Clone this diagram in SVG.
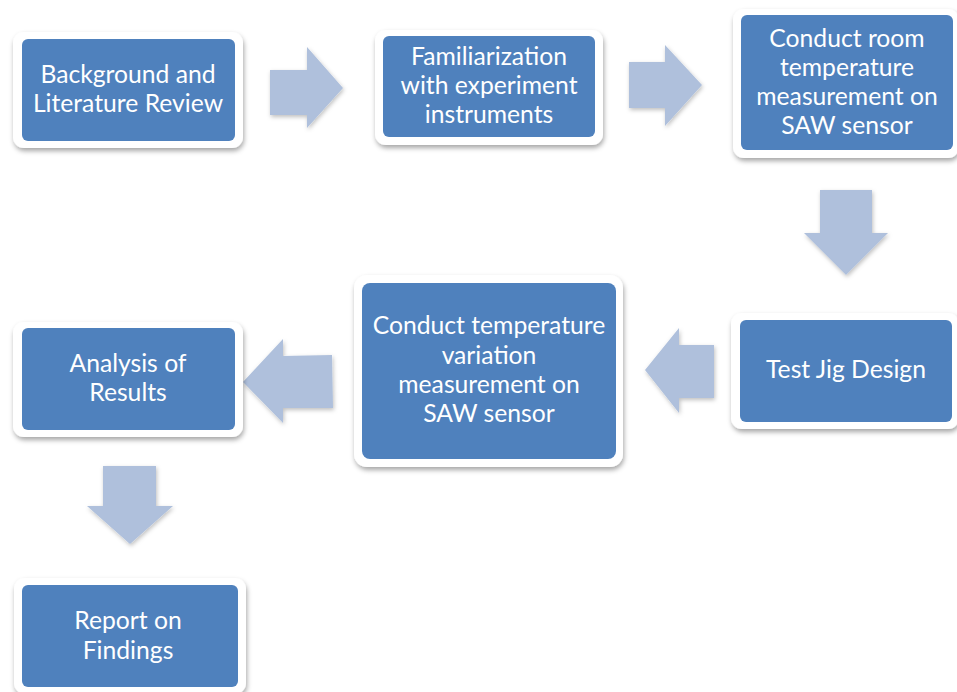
<svg xmlns="http://www.w3.org/2000/svg" width="957" height="692" viewBox="0 0 957 692">
<defs>
<filter id="sh" x="-10%" y="-10%" width="125%" height="130%">
<feDropShadow dx="1" dy="3" stdDeviation="2.5" flood-color="#000" flood-opacity="0.35"/>
</filter>
<filter id="ash" x="-10%" y="-10%" width="130%" height="130%">
<feDropShadow dx="1" dy="2" stdDeviation="2" flood-color="#000" flood-opacity="0.25"/>
</filter>
<style>
.frame{fill:#fff;filter:url(#sh)}
.box{fill:#4F81BD}
.arr{fill:#AFC0DC;filter:url(#ash)}
text{font-family:Lato,"Open Sans","Liberation Sans",sans-serif;font-size:24.7px;fill:#fff;text-anchor:middle}
</style>
</defs>
<rect width="957" height="692" fill="#fff"/>
<g id="connectors">
<polygon class="arr" points="270,70 307,70 307,47 343,88 307,128 307,115 270,115"/>
<polygon class="arr" points="629,62 665,62 665,45 702,85 665,126 665,108 629,108"/>
<polygon class="arr" points="820,190 872,190 872,233 888,233 846,275 804,233 820,233"/>
<polygon class="arr" points="714,345 679,345 679,328 645,370 679,413 679,398 714,398"/>
<polygon class="arr" points="332,355 283,356 283,339 243,382 283,423 283,408 333,408"/>
<polygon class="arr" points="103,466 156,466 156,506 173,506 130,544 87,506 103,506"/>
</g>
<g id="n1">
<rect class="frame" x="13" y="32" width="230" height="116" rx="11"/>
<rect class="box" x="22" y="39" width="213" height="102" rx="6"/>
<text x="128" y="83">Background and</text>
<text x="128" y="112">Literature Review</text>
</g>
<g id="n2">
<rect class="frame" x="375" y="30" width="228" height="115" rx="11"/>
<rect class="box" x="383" y="36" width="212" height="101" rx="6"/>
<text x="489" y="65">Familiarization</text>
<text x="489" y="94">with experiment</text>
<text x="489" y="123">instruments</text>
</g>
<g id="n3">
<rect class="frame" x="733" y="9" width="226" height="149" rx="11"/>
<rect class="box" x="741" y="15" width="212" height="135" rx="6"/>
<text x="847" y="47">Conduct room</text>
<text x="847" y="76">temperature</text>
<text x="847" y="105">measurement on</text>
<text x="847" y="134">SAW sensor</text>
</g>
<g id="n4">
<rect class="frame" x="731" y="313" width="228" height="116" rx="11"/>
<rect class="box" x="740" y="320" width="212" height="102" rx="6"/>
<text x="846" y="378">Test Jig Design</text>
</g>
<g id="n5">
<rect class="frame" x="354" y="275" width="269" height="192" rx="13"/>
<rect class="box" x="362" y="283" width="254" height="176" rx="8"/>
<text x="489" y="334">Conduct temperature</text>
<text x="489" y="364">variation</text>
<text x="489" y="393">measurement on</text>
<text x="489" y="422">SAW sensor</text>
</g>
<g id="n6">
<rect class="frame" x="13" y="322" width="230" height="115" rx="11"/>
<rect class="box" x="22" y="328" width="213" height="102" rx="6"/>
<text x="128" y="372">Analysis of</text>
<text x="128" y="401">Results</text>
</g>
<g id="n7">
<rect class="frame" x="14" y="578" width="232" height="116" rx="11"/>
<rect class="box" x="22" y="585" width="216" height="102" rx="6"/>
<text x="128" y="629">Report on</text>
<text x="128" y="659">Findings</text>
</g>
</svg>
